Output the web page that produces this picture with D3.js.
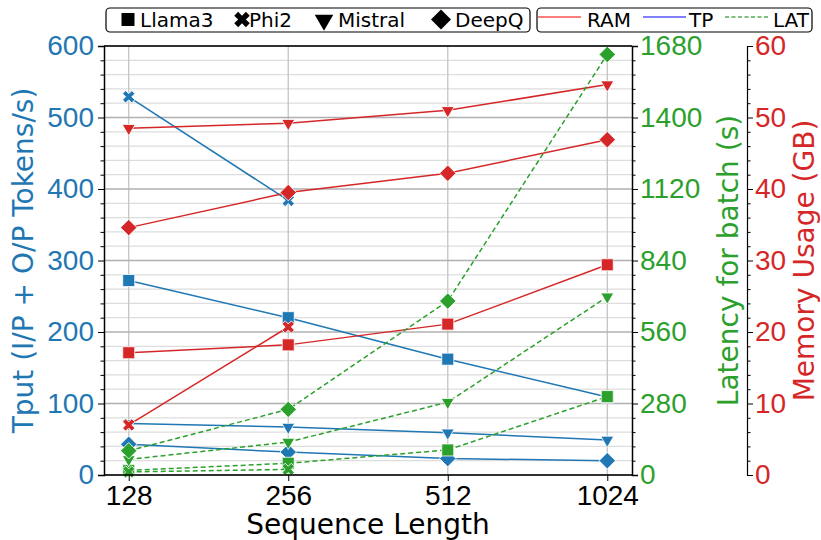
<!DOCTYPE html>
<html><head><meta charset="utf-8">
<script src="https://cdn.jsdelivr.net/npm/d3@7"></script>
<style>
body{margin:0;background:#fff;}
svg{font-family:"DejaVu Sans",sans-serif;}
</style></head>
<body><svg id="c" width="821" height="540"></svg>
<script>
const categories = ["128","256","512","1024"];
const models = ["Llama3","Phi2","Mistral","DeepQ"];
// Throughput (left axis)
const tpLlama3  = [272, 220, 162, 109];
const tpPhi2    = [529, 384];
const tpMistral = [72, 67, 59, 49];
const tpDeepQ   = [43, 32, 23, 20];
// RAM (GB, far right axis)
const ramLlama3  = [17.1, 18.2, 21.1, 29.4];
const ramPhi2    = [7.0, 20.7];
const ramMistral = [48.5, 49.2, 51.0, 54.6];
const ramDeepQ   = [34.6, 39.5, 42.2, 46.9];
// Latency (s, right axis)
const latLlama3  = [18, 46, 98, 307];
const latPhi2    = [12, 22];
const latMistral = [61, 129, 285, 698];
const latDeepQ   = [95, 257, 681, 1647];
const leftTicks = [0,100,200,300,400,500,600];
const latTicks = [0,280,560,840,1120,1400,1680];
const ramTicks = [0,10,20,30,40,50,60];

const C = {blue:"#1f77b4", red:"#d62728", green:"#2ca02c"};
const svg = d3.select("#c");
const L=104, R=632, T=46, B=475;
const x = d3.scalePoint().domain(categories).range([L,R]).padding(0.155);
const yL = d3.scaleLinear().domain([0,600]).range([B,T]);
const yG = d3.scaleLinear().domain([0,1680]).range([B,T]);
const yR = d3.scaleLinear().domain([0,60]).range([B,T]);

// grid
const g = svg.append("g");
d3.range(0,601,20).filter(v=>v%100!==0).forEach(v=>{
  g.append("line").attr("x1",L).attr("x2",R).attr("y1",yL(v)).attr("y2",yL(v)).attr("stroke","#dddddd").attr("stroke-width",1.2);
});
categories.forEach(c=>{
  g.append("line").attr("x1",x(c)).attr("x2",x(c)).attr("y1",T).attr("y2",B).attr("stroke","#c4c4c4").attr("stroke-width",1.3);
});
leftTicks.forEach(v=>{
  g.append("line").attr("x1",L).attr("x2",R).attr("y1",yL(v)).attr("y2",yL(v)).attr("stroke","#b0b0b0").attr("stroke-width",1.6);
});

// marker shapes
function markerPath(i, k){
  k = k || 1;
  if(i===0) return d3.symbol(d3.symbolSquare,144*k)();
  if(i===1) return d3.symbol(d3.symbolCross,95*k)();
  if(i===2) return d3.symbol(d3.symbolTriangle,72*k)();
  return d3.symbol(d3.symbolSquare,135*k)();
}
const rot = [0,45,180,45];

function drawSeries(vals, yScale, color, mi, dashed){
  const pts = vals.map((v,i)=>[x(categories[i]), yScale(v)]);
  svg.append("path").attr("d", d3.line()(pts)).attr("fill","none").attr("stroke",color)
    .attr("stroke-width",1.5).attr("stroke-dasharray", dashed? "5,3":null);
  pts.forEach(p=>{
    svg.append("path").attr("d",markerPath(mi))
      .attr("transform",`translate(${p[0]},${p[1]}) rotate(${rot[mi]})`)
      .attr("fill",color).attr("stroke","#fff").attr("stroke-width",0.8);
  });
}
const tp=[tpLlama3,tpPhi2,tpMistral,tpDeepQ];
const ram=[ramLlama3,ramPhi2,ramMistral,ramDeepQ];
const lat=[latLlama3,latPhi2,latMistral,latDeepQ];
tp.forEach((s,i)=>drawSeries(s,yL,C.blue,i,false));
ram.forEach((s,i)=>drawSeries(s,yR,C.red,i,false));
lat.forEach((s,i)=>drawSeries(s,yG,C.green,i,true));

// frame top
svg.append("line").attr("x1",L).attr("x2",R).attr("y1",T).attr("y2",T).attr("stroke","#000").attr("stroke-width",1.5);

const fs = 28;
const fmt = d3.format("d");
// left axis
const ax = svg.append("g").attr("transform",`translate(${L},0)`)
  .call(d3.axisLeft(yL).tickValues(leftTicks).tickFormat(fmt).tickSize(6).tickPadding(4));
ax.select(".domain").attr("stroke","#000").attr("stroke-width",1.5);
ax.selectAll("text").attr("fill",C.blue).style("font-size",fs+"px");
svg.append("g").attr("transform",`translate(${L},0)`)
  .call(d3.axisLeft(yL).tickValues(d3.range(0,601,20).filter(v=>v%100!==0)).tickSize(3.5).tickFormat(""))
  .select(".domain").remove();

// bottom axis
const bx = svg.append("g").attr("transform",`translate(0,${B})`)
  .call(d3.axisBottom(x).tickSize(6).tickPadding(4).tickSizeOuter(0));
bx.select(".domain").attr("stroke","#000").attr("stroke-width",1.5).attr("d",`M${L},0H${R}`);
bx.selectAll("text").attr("fill","#000").style("font-size",fs+"px");

// latency axis
const gx = svg.append("g").attr("transform",`translate(${R},0)`)
  .call(d3.axisRight(yG).tickValues(latTicks).tickFormat(fmt).tickSize(6).tickPadding(2));
gx.select(".domain").attr("stroke","#000").attr("stroke-width",1.5);
gx.selectAll("text").attr("fill",C.green).style("font-size",fs+"px");
svg.append("g").attr("transform",`translate(${R},0)`)
  .call(d3.axisRight(yG).tickValues(d3.range(0,1681,56).filter(v=>v%280!==0)).tickSize(3.5).tickFormat(""))
  .select(".domain").remove();

// RAM axis
const RX = 747;
const rx = svg.append("g").attr("transform",`translate(${RX},0)`)
  .call(d3.axisRight(yR).tickValues(ramTicks).tickFormat(fmt).tickSize(6).tickPadding(2));
rx.select(".domain").attr("stroke","#000").attr("stroke-width",1.2);
rx.selectAll("text").attr("fill",C.red).style("font-size",fs+"px");
svg.append("g").attr("transform",`translate(${RX},0)`)
  .call(d3.axisRight(yR).tickValues(d3.range(0,61,2).filter(v=>v%10!==0)).tickSize(3.5).tickFormat(""))
  .select(".domain").remove();

// axis labels
svg.append("text").attr("transform",`translate(${(L+R)/2},534)`).attr("text-anchor","middle")
  .style("font-size",fs+"px").attr("fill","#000").text("Sequence Length");
svg.append("text").attr("transform",`translate(33,${(T+B)/2}) rotate(-90)`).attr("text-anchor","middle")
  .style("font-size",fs+"px").attr("fill",C.blue).text("Tput (I/P + O/P Tokens/s)");
svg.append("text").attr("transform",`translate(738,${(T+B)/2}) rotate(-90)`).attr("text-anchor","middle")
  .style("font-size",fs+"px").attr("fill",C.green).text("Latency for batch (s)");
svg.append("text").attr("transform",`translate(814,${(T+B)/2}) rotate(-90)`).attr("text-anchor","middle")
  .style("font-size",fs+"px").attr("fill",C.red).text("Memory Usage (GB)");

// legend 1 (marker glyphs + names)
svg.append("rect").attr("x",106).attr("y",8).attr("width",424).attr("height",24).attr("rx",4)
  .attr("fill","#fff").attr("stroke","#000").attr("stroke-width",1.2);
const l1m=[128,242,324,441];
const l1t=[140,249,338,455];
const l1k=[[169,0],[150,45],[150,180],[200,45]];
models.forEach((m,i)=>{
  const sym = i===1 ? d3.symbolCross : (i===2 ? d3.symbolTriangle : d3.symbolSquare);
  svg.append("path").attr("d",d3.symbol(sym,l1k[i][0])())
    .attr("transform",`translate(${l1m[i]},${i===2?20:19.5}) rotate(${l1k[i][1]})`).attr("fill","#000");
  svg.append("text").attr("x",l1t[i]).attr("y",27).style("font-size","20px").attr("fill","#000").text(m);
});
// legend 2
svg.append("rect").attr("x",537).attr("y",8).attr("width",275).attr("height",24).attr("rx",4)
  .attr("fill","#fff").attr("stroke","#000").attr("stroke-width",1.2);
const l2 = [["RAM","#ff0000",null,538,587],["TP","#0000ff",null,643,689],["LAT","#008000","4,2.5",725,773]];
l2.forEach(d=>{
  svg.append("line").attr("x1",d[3]).attr("x2",d[3]+43).attr("y1",17).attr("y2",17)
    .attr("stroke",d[1]).attr("stroke-width",1.2).attr("stroke-dasharray",d[2]);
  svg.append("text").attr("x",d[4]).attr("y",27).style("font-size","20px").attr("fill","#000").text(d[0]);
});
</script></body></html>
